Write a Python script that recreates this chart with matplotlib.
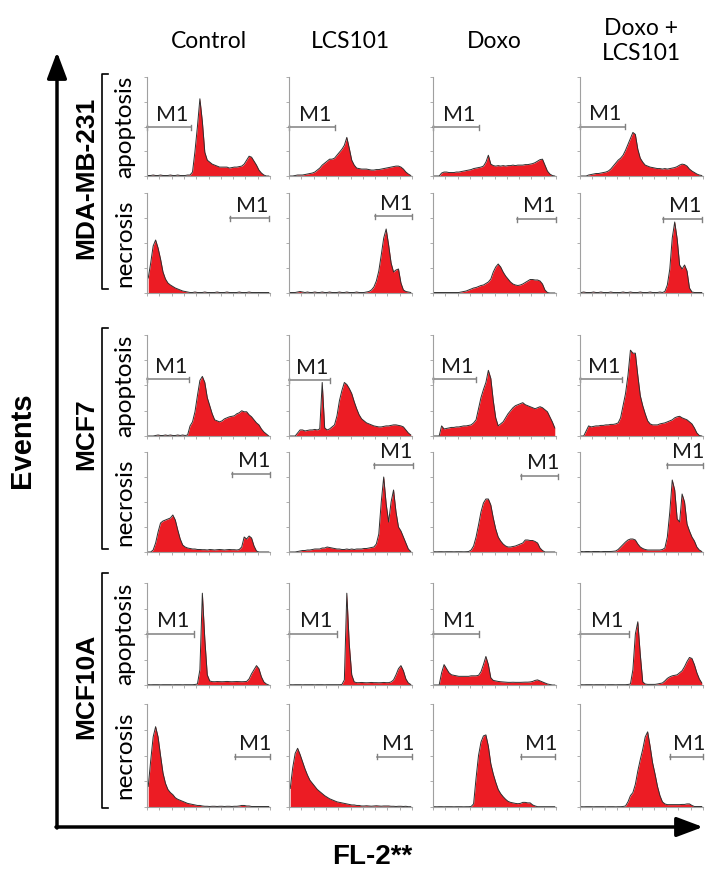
import numpy as np
import matplotlib
matplotlib.use("Agg")
import matplotlib.pyplot as plt

# histogram heights, in % of panel height, 50 FL-2 bins per panel
# MDA-MB-231
mda_apo_control = [0.5, 0.5, 1, 0.5, 0.5, 1, 0.5, 0.5, 0.5, 1, 0.5, 0.5, 1, 0.5, 0.5, 0.5, 1, 1,
                   4, 25, 50, 78, 55, 24, 16, 14, 12, 11, 10, 9, 9, 9, 9, 8, 8.5, 9, 9, 9.5,
                   10, 12, 16, 20, 19, 15, 11, 6, 3, 1, 0, 0]
mda_apo_lcs = [0, 0, 0.5, 1, 1, 1, 1.5, 2, 2.5, 3, 4, 6, 8, 11, 13, 15, 17, 17, 18, 21,
               24, 27, 31, 39, 28, 16, 11, 8, 7.5, 7, 7, 7, 6.5, 6, 6, 6.5, 6.5, 7, 7.5, 8,
               8.5, 9, 9.5, 10, 10, 9, 7, 4, 2, 0.5]
mda_apo_doxo = [0, 0, 0, 3, 4, 4, 3.5, 3.5, 3.5, 4, 4, 4.5, 5, 5.5, 6, 6.5, 7.5, 8, 8.5, 9,
                10, 14, 21, 12, 10.5, 10, 10.5, 10, 10.5, 10, 10.5, 10.5, 11, 10.5, 11, 11, 11, 11.5, 11.5, 12,
                12.5, 13.5, 15, 16.5, 17, 11, 5, 2, 0.5, 0]
mda_apo_combo = [0, 0, 0, 1, 1.5, 2, 2.5, 2.5, 3, 3.5, 4, 5, 7, 10, 13, 16, 18, 21, 26, 32,
                 38, 44, 42, 27, 18, 14, 11, 10, 9, 8.5, 8, 7.5, 7.5, 7, 7.5, 7, 7.5, 8, 8.5, 9.5,
                 11, 12, 11.5, 10, 7, 5, 3.5, 2, 1, 0.5]
mda_nec_control = [15, 30, 47, 53, 45, 34, 21, 14, 10, 8, 6.5, 5, 4, 3, 2, 1.5, 1, 0.5, 0.5, 1,
                   0.5, 0.5, 0.5, 1, 0.5, 0.5, 0.5, 0.5, 1, 0.5, 0.5, 0.5, 1, 0.5, 0.5, 0.5, 0.5, 1, 0.5, 0.5,
                   0.5, 1, 0.5, 0.5, 0.5, 0.5, 0.5, 0.5, 0.5, 0.5]
mda_nec_lcs = [0.5, 0.5, 0.5, 1, 1.5, 1, 0.5, 1, 0.5, 0.5, 1, 0.5, 0.5, 1, 0.5, 0.5, 1, 0.5, 0.5, 0.5,
               1, 0.5, 0.5, 1, 0.5, 0.5, 0.5, 1, 0.5, 0.5, 0.5, 1,
               1.5, 3, 6, 12, 22, 38, 55, 64, 48, 30, 21, 23, 24, 10, 3, 1.5, 1, 0.5]
mda_nec_doxo = [0.5, 0.5, 0.5, 0.5, 0.5, 0.5, 0.5, 0.5, 0.5, 0.5,
                0.5, 1, 1.5, 2, 3, 4, 5, 5.5, 6.5, 7.5, 8, 9.5, 11, 14, 21, 26, 29, 26, 21, 17,
                14, 11, 9, 8, 7.5, 8, 9, 10.5, 12, 13.5, 13.5, 13, 13, 12, 9, 3, 0.5, 0, 0, 0]
mda_nec_combo = [0.5, 1, 0.5, 0.5, 0.5, 1, 0.5, 0.5, 1, 0.5, 0.5, 0.5, 1, 0.5, 0.5, 0.5, 0.5, 1, 0.5, 0.5,
                 1, 0.5, 0.5, 0.5, 1, 0.5, 0.5, 0.5, 1, 0.5, 0.5, 0.5, 1, 0.5,
                 1.5, 8, 24, 55, 71, 54, 28, 24, 28, 22, 5, 1, 0.5, 0.5, 0.5, 0.5]

# MCF7
mcf7_apo_control = [0, 0, 0, 0.5, 1, 0.5, 0.5, 1, 0.5, 1, 0.5, 0.5, 1, 0.5, 1, 0.5, 1,
                    10, 14, 24, 40, 55, 59, 53, 38, 30, 22, 16, 15, 14, 15, 17, 18, 19, 19.5, 20, 22, 23, 25, 24,
                    24, 21, 19, 16, 13, 11, 7, 4, 2, 0]
mcf7_apo_lcs = [0, 0, 0, 3, 6, 6, 5, 5.5, 6, 6, 6.5, 6, 7, 53, 8, 6, 7, 9, 11, 20,
                35, 45, 53, 51, 47, 42, 34, 27, 21, 17, 15, 13, 12, 11, 10, 9.5, 9, 9, 9.5, 10,
                10, 10.5, 11, 11, 10.5, 10, 9, 6, 3, 1]
mcf7_apo_doxo = [0, 0, 0, 10, 7, 7.5, 8, 8.5, 8.5, 9, 9, 9.5, 10, 10, 10.5, 11, 13, 16, 27, 38,
                 46, 53, 65, 57, 35, 18, 10, 12, 14, 18, 22, 25, 28, 30, 31, 32, 33, 31, 30, 29,
                 28, 27, 28, 29, 28, 26, 24, 19, 14, 8]
mcf7_apo_combo = [0, 0, 5, 10, 9, 9.5, 10, 10, 10.5, 10.5, 11, 11, 11.5, 11.5, 12, 13, 18, 30, 42, 60,
                  85, 82, 82, 60, 40, 30, 22, 15, 12, 11, 11, 11, 12, 12.5, 13, 14, 15, 16, 18, 19,
                  19.5, 18, 17, 16, 14, 12, 8, 3, 0.5, 0]
mcf7_nec_control = [0, 0, 2, 9, 20, 29, 31, 32, 33, 34, 37, 32, 22, 13, 7, 5, 4, 3.5, 3, 3,
                    2.5, 2.5, 2.3, 2.3, 2, 2.5, 2.3, 2, 2.3, 2.5, 2.3, 2, 2.3, 2.5, 2.3, 2.3, 2, 2.5, 5, 15,
                    13, 16, 14, 6, 1, 0, 0, 0, 0, 0]
mcf7_nec_lcs = [0, 0, 0, 0.5, 1, 1.5, 1.5, 2, 2, 2.5, 3, 3, 3, 4, 4, 5, 4.5, 4, 3.5, 3,
                3, 2.5, 2.5, 3, 2.5, 3, 2.5, 3, 3, 3, 3.5, 3.5, 4, 4.5, 5, 8, 18, 50, 75, 48,
                30, 50, 62, 40, 25, 21, 15, 9, 3, 0.5]
mcf7_nec_doxo = [0.3, 0.2, 0.3, 0.3, 0.2, 0.3, 0.3, 0.3, 0.2, 0.3, 0.3, 0.3, 0.2, 0.3, 0.5,
                 2, 6, 15, 27, 40, 49, 53, 53, 47, 34, 23, 15, 11, 8, 6,
                 5, 5, 5.5, 6, 7, 8, 9, 12, 12, 11.5, 11.5, 10.5, 9, 4, 1.5, 0, 0, 0, 0, 0]
mcf7_nec_combo = [0.5, 0.3, 0.5, 0.5, 0.3, 0.5, 0.5, 0.5, 0.3, 0.5, 0.5, 0.5, 0.5, 0.7,
                  1, 2.5, 5, 7.5, 10, 12, 13, 13, 12, 8, 5, 3.5, 2.5, 2, 2, 2,
                  2, 2, 2, 2.5, 4, 15, 40, 72, 62, 33, 30, 58, 50, 28, 21, 15, 11, 5, 2, 0.5]

# MCF10A
mcf10a_apo_control = [0.3, 0.2, 0.3, 0.3, 0.3, 0.2, 0.3, 0.3, 0.3, 0.3, 0.2, 0.3, 0.3, 0.3, 0.2, 0.3, 0.3, 0.3, 0.3, 0.5,
                      1, 15, 90, 45, 10, 4, 3.3, 3.2, 3.4, 3.3, 3.2, 3.3, 3.5, 3.3, 3.2, 3.3, 3.4, 3.3, 3.2, 3.3,
                      3.5, 6, 11, 15, 19, 16, 8, 3, 1, 0]
mcf10a_apo_lcs = [0.3, 0.2, 0.3, 0.3, 0.3, 0.2, 0.3, 0.3, 0.3, 0.3, 0.2, 0.3, 0.3, 0.3, 0.2, 0.3, 0.3, 0.3, 0.3, 0.3,
                  0.3, 0.5, 5, 90, 40, 10, 3, 2.3, 2.3, 2.5, 2.3, 2.2, 2.3, 2.5, 2.3, 2.3, 2.2, 2.3, 2.5, 2.3,
                  2.3, 3, 5, 10, 16, 19, 14, 6, 2, 0.5]
mcf10a_apo_doxo = [0, 0, 0, 12, 20, 16, 12, 10, 9.5, 9, 8.5, 8.5, 8.5, 8.5, 8.5, 9, 9, 9, 9.5, 13,
                   20, 28, 20, 7, 4.5, 4, 3.5, 3.2, 3, 2.8, 2.6, 2.6, 2.7, 2.6, 2.6, 2.6, 2.7, 2.8, 2.8, 3,
                   3.5, 4.5, 5, 4, 3, 2, 1, 0.5, 0, 0]
mcf10a_apo_combo = [0.3, 0.2, 0.3, 0.3, 0.3, 0.2, 0.3, 0.3, 0.3, 0.3, 0.2, 0.3, 0.3, 0.3, 0.2, 0.3, 0.3, 0.3, 0.3, 0.5,
                    1, 15, 50, 62, 30, 3, 1, 0.6, 0.6, 0.6, 0.6, 1, 1.5, 2, 4, 6.5, 8, 9, 9.5, 10,
                    12, 14, 18, 23, 27, 26, 20, 12, 6, 2]
mcf10a_nec_control = [20, 45, 68, 78, 68, 50, 33, 23, 17, 14, 12, 9, 7.5, 6.5, 5.5, 4.5, 3.5, 3, 2.5, 2,
                      1.5, 1.5, 1, 0.7, 0.7, 0.5, 0.7, 0.7, 0.5, 0.7, 0.7, 0.5, 0.7, 0.7, 0.5, 0.7, 0.7, 1, 1.5, 1.5,
                      1, 1, 0.5, 0.5, 0.5, 0.5, 0.5, 0.5, 0.5, 0.5]
mcf10a_nec_lcs = [18, 38, 52, 57, 51, 44, 37, 31, 26, 23, 20, 17, 15, 13, 11, 9.5, 8, 7, 6, 5,
                  4.5, 4, 3.5, 3, 2.5, 2, 2, 1.5, 1.5, 1, 1, 1.2, 1, 0.8, 1, 1.2, 1, 0.8, 1, 1,
                  1, 0.7, 0.7, 0.5, 0.7, 0.7, 0.5, 0.7, 0.3, 0.3]
mcf10a_nec_doxo = [0.3, 0.2, 0.3, 0.3, 0.2, 0.3, 0.3, 0.3, 0.2, 0.3, 0.3, 0.3, 0.2, 0.3, 0.3, 0.5,
                   3, 28, 50, 63, 69, 70, 59, 42, 32, 24, 17, 13, 10, 7.5, 5.5, 4.5, 4, 3.5, 3.2, 3.5,
                   4.5, 4.5, 4, 4, 2, 1, 0.3, 0.3, 0.3, 0.3, 0.3, 0.3, 0.3, 0.3]
mcf10a_nec_combo = [0.3, 0.2, 0.3, 0.3, 0.3, 0.2, 0.3, 0.3, 0.3, 0.3, 0.2, 0.3, 0.3, 0.3, 0.2, 0.3, 0.3, 0.5,
                    1, 5, 11, 14, 22, 35, 46, 56, 68, 73, 59, 43, 32, 20, 11, 5, 3, 2.3, 2.3, 2.3,
                    2.3, 2.3, 2.3, 2.5, 2.5, 3, 3, 1.5, 0.5, 0.5, 0.5, 0.5]

treatments = ["Control", "LCS101", "Doxo", "Doxo +\nLCS101"]
cell_lines = ["MDA-MB-231", "MCF7", "MCF10A"]
assays = ["apoptosis", "necrosis"]

# M1 marker gates (bin units) and their height (% of panel)
gate_lo = [[0, 0, 0, 0], [33.7, 35, 34, 33.7],
           [0, 0, 0, 0], [34.5, 34.5, 35.8, 35.4],
           [0, 0, 0, 0], [35.8, 35.8, 35.8, 36.6]]
gate_hi = [[18, 18.7, 18.7, 18.3], [49.6, 50, 50, 49.5],
           [17, 16.7, 17.5, 17], [50, 50.5, 51, 50],
           [19, 19.5, 18.7, 20], [50, 50.2, 49.6, 50]]
gate_y = [[49, 49, 49, 50], [75, 77, 74, 74],
          [56, 55, 56, 56], [78, 87, 76, 87],
          [50, 50, 50, 50], [49, 49, 49, 49]]

histos = [
    [mda_apo_control, mda_apo_lcs, mda_apo_doxo, mda_apo_combo],
    [mda_nec_control, mda_nec_lcs, mda_nec_doxo, mda_nec_combo],
    [mcf7_apo_control, mcf7_apo_lcs, mcf7_apo_doxo, mcf7_apo_combo],
    [mcf7_nec_control, mcf7_nec_lcs, mcf7_nec_doxo, mcf7_nec_combo],
    [mcf10a_apo_control, mcf10a_apo_lcs, mcf10a_apo_doxo, mcf10a_apo_combo],
    [mcf10a_nec_control, mcf10a_nec_lcs, mcf10a_nec_doxo, mcf10a_nec_combo],
]

W, H = 705, 874
fig = plt.figure(figsize=(W / 100, H / 100), dpi=100)
bg = fig.add_axes([0, 0, 1, 1])
bg.set_xlim(0, W)
bg.set_ylim(H, 0)
bg.axis("off")

col_x = [147, 289, 433, 580]
panel_w = 123
row_top = [77, 193, 335, 452, 583, 704]
row_bot = [176, 293, 436, 552, 685, 807]

red = "#ec1c24"
grey = "#a0a0a0"
calibri = ["Lato", "DejaVu Sans"]
arial = ["Liberation Sans", "DejaVu Sans"]

bins = np.arange(50) + 0.5
for r in range(6):
    for c in range(4):
        ax = fig.add_axes([col_x[c] / W, 1 - row_bot[r] / H, panel_w / W,
                           (row_bot[r] - row_top[r]) / H])
        ax.patch.set_alpha(0)
        h = np.array(histos[r][c])
        ax.fill_between(bins, h, color=red, lw=0)
        ax.plot(bins, h, color="#2e2e2e", lw=0.7)
        ax.set_xlim(0, 50)
        ax.set_ylim(0, 100)
        for s in ["top", "right"]:
            ax.spines[s].set_visible(False)
        for s in ["left", "bottom"]:
            ax.spines[s].set_color(grey)
            ax.spines[s].set_linewidth(0.8)
        ax.set_xticks(np.arange(0, 51, 5))
        ax.set_yticks([0, 25, 50, 75, 100])
        ax.tick_params(length=2, width=0.6, color=grey, labelbottom=False, labelleft=False)

        lo, hi, gy = gate_lo[r][c], gate_hi[r][c], gate_y[r][c]
        ax.plot([lo, hi], [gy, gy], color="#808080", lw=1.1, clip_on=False)
        ax.plot([lo, lo], [gy - 2.5, gy + 2.5], color="#808080", lw=1.0, clip_on=False)
        ax.plot([hi, hi], [gy - 2.5, gy + 2.5], color="#808080", lw=1.0, clip_on=False)
        ax.text((lo + hi) / 2 + 1.2, gy + 6.5, "M1", ha="center", va="baseline",
                fontsize=15.5, family=calibri, color="#1a1a1a")

# column titles
for c, t in enumerate(treatments):
    bg.text(col_x[c] + panel_w / 2, 41, t, ha="center", va="center", fontsize=16.5,
            family=calibri, linespacing=1.2)

# row labels (assay)
for r in range(6):
    bg.text(125, (row_top[r] + row_bot[r]) / 2, assays[r % 2], rotation=90, ha="center",
            va="center", fontsize=17.5, family=calibri)

# cell line labels with brackets
br_top = [74, 328, 573]
br_bot = [289, 549, 808]
for g, name in enumerate(cell_lines):
    bg.plot([108, 102, 102, 108], [br_top[g], br_top[g], br_bot[g], br_bot[g]],
            color="black", lw=1.2)
    bg.text(86, (br_top[g] + br_bot[g]) / 2 - 4, name, rotation=90, ha="center", va="center",
            fontsize=19, weight="bold", family=arial)

# big axes arrows
arrow = dict(arrowstyle="-|>,head_length=0.8,head_width=0.3", lw=2.5, color="black",
             shrinkA=0, shrinkB=0, mutation_scale=20)
bg.annotate("", xy=(57, 52), xytext=(57, 828), arrowprops=arrow)
bg.annotate("", xy=(703, 827), xytext=(56, 827), arrowprops=arrow)

bg.text(22, 440, "Events", rotation=90, ha="center", va="center", fontsize=21,
        weight="bold", family=arial)
bg.text(372, 857, "FL-2**", ha="center", va="center", fontsize=20, weight="bold", family=arial)

fig.savefig("out.png", dpi=100)
